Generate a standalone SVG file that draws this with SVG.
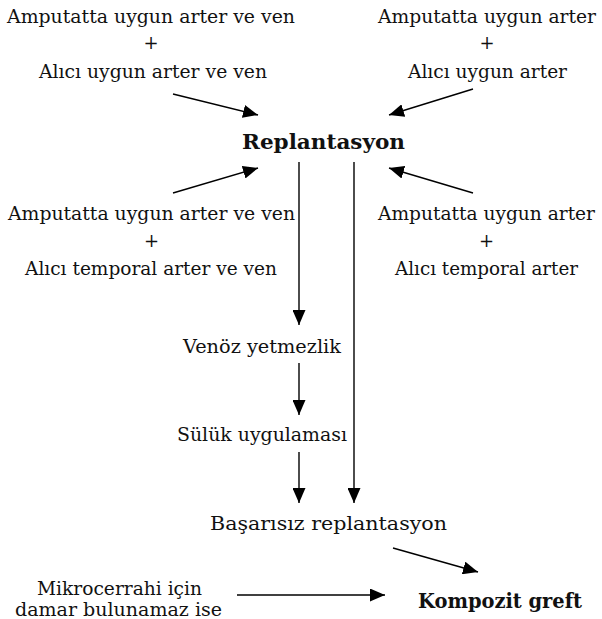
<svg xmlns="http://www.w3.org/2000/svg" width="602" height="619" viewBox="0 0 602 619">
<style>
text{font-family:"DejaVu Serif","Liberation Serif",serif;font-size:18px;fill:#111;text-anchor:middle}
.b{font-weight:bold;font-size:20px}
.c line{stroke:#000;stroke-width:1.4;marker-end:url(#ah)}
</style>
<defs>
<marker id="ah" markerUnits="userSpaceOnUse" markerWidth="16" markerHeight="13" refX="15" refY="6.5" orient="auto">
<path d="M0,0 L15,6.5 L0,13 z" fill="#000"/>
</marker>
</defs>
<rect width="602" height="619" fill="#fff"/>
<g class="c" id="connectors">
<line x1="173" y1="94" x2="258" y2="115"/>
<line x1="473" y1="89" x2="389" y2="115"/>
<line x1="173" y1="193" x2="258" y2="168"/>
<line x1="473" y1="193" x2="389" y2="168"/>
<line x1="299" y1="162" x2="299" y2="325"/>
<line x1="299" y1="363" x2="299" y2="415"/>
<line x1="299" y1="452" x2="299" y2="503"/>
<line x1="354" y1="162" x2="354" y2="503"/>
<line x1="393" y1="548" x2="478" y2="572"/>
<line x1="237" y1="595" x2="385" y2="595"/>
</g>
<g id="n1">
<text x="151" y="23" textLength="288" lengthAdjust="spacingAndGlyphs">Amputatta uygun arter ve ven</text>
<text x="151" y="49">+</text>
<text x="153" y="78" textLength="228" lengthAdjust="spacingAndGlyphs">Alıcı uygun arter ve ven</text>
</g>
<g id="n2">
<text x="487" y="23" textLength="218" lengthAdjust="spacingAndGlyphs">Amputatta uygun arter</text>
<text x="487" y="49">+</text>
<text x="487.5" y="78" textLength="159" lengthAdjust="spacingAndGlyphs">Alıcı uygun arter</text>
</g>
<g id="replantasyon">
<text class="b" x="323.5" y="149" textLength="163" lengthAdjust="spacingAndGlyphs">Replantasyon</text>
</g>
<g id="n3">
<text x="151.5" y="220" textLength="287" lengthAdjust="spacingAndGlyphs">Amputatta uygun arter ve ven</text>
<text x="151.5" y="247">+</text>
<text x="151" y="275" textLength="252" lengthAdjust="spacingAndGlyphs">Alıcı temporal arter ve ven</text>
</g>
<g id="n4">
<text x="486.5" y="220" textLength="217" lengthAdjust="spacingAndGlyphs">Amputatta uygun arter</text>
<text x="486.5" y="247">+</text>
<text x="486.5" y="275" textLength="183" lengthAdjust="spacingAndGlyphs">Alıcı temporal arter</text>
</g>
<g id="venoz">
<text x="262" y="353" textLength="158" lengthAdjust="spacingAndGlyphs">Venöz yetmezlik</text>
</g>
<g id="suluk">
<text x="262" y="441" textLength="170" lengthAdjust="spacingAndGlyphs">Sülük uygulaması</text>
</g>
<g id="basarisiz">
<text x="328.5" y="530" textLength="237" lengthAdjust="spacingAndGlyphs">Başarısız replantasyon</text>
</g>
<g id="mikro">
<text x="119.5" y="595" textLength="165" lengthAdjust="spacingAndGlyphs">Mikrocerrahi için</text>
<text x="118.5" y="616" textLength="207" lengthAdjust="spacingAndGlyphs">damar bulunamaz ise</text>
</g>
<g id="kompozit">
<text class="b" x="500" y="608" textLength="164" lengthAdjust="spacingAndGlyphs">Kompozit greft</text>
</g>
</svg>
